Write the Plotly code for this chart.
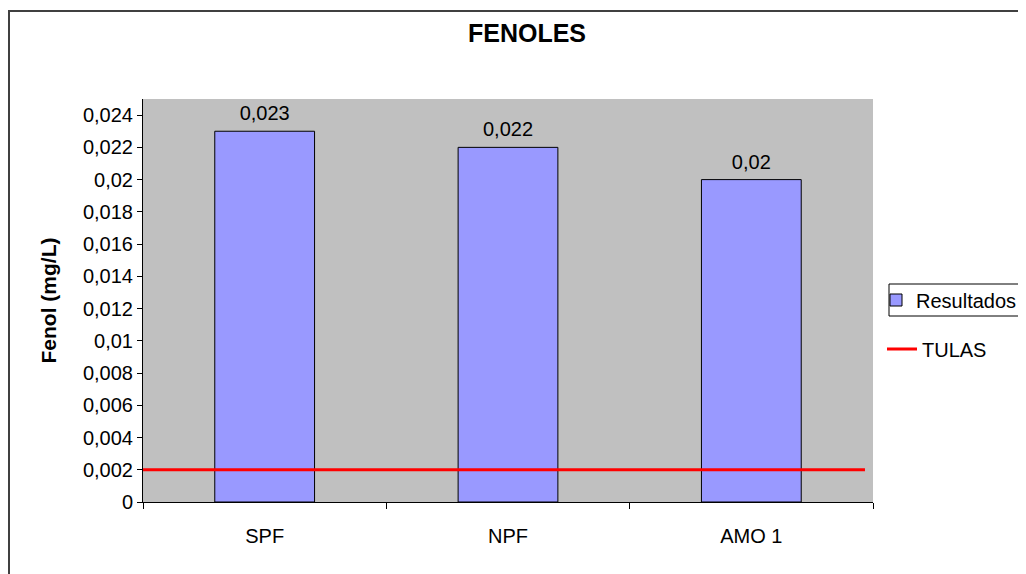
import plotly.graph_objects as go

categories = ["SPF", "NPF", "AMO 1"]
resultados = [0.023, 0.022, 0.02]
resultados_labels = ["0,023", "0,022", "0,02"]
tulas_limit = 0.002
y_ticks = [0, 0.002, 0.004, 0.006, 0.008, 0.01, 0.012, 0.014, 0.016, 0.018, 0.02, 0.022, 0.024]
y_ticktext = ["0", "0,002", "0,004", "0,006", "0,008", "0,01", "0,012", "0,014", "0,016", "0,018", "0,02", "0,022", "0,024"]

OFF = 8  # page body margin
W, H = 1026 - OFF, 574 - OFF
L, T = 143 - OFF, 99 - OFF
R = W - (873 - OFF)
B = H - (502 - OFF)
pw, ph = W - L - R, H - T - B

def px_x(x):
    return (x - OFF - L) / pw

def px_y(y):
    return 1 - (y - OFF - T) / ph

FONT = "Liberation Sans, Arial, sans-serif"

fig = go.Figure()
fig.add_trace(go.Bar(
    x=categories, y=resultados, name="Resultados",
    marker=dict(color="#9999FF", line=dict(color="black", width=1)),
    width=0.41, legend="legend", hoverinfo="skip",
))
fig.add_trace(go.Scatter(
    x=categories, y=resultados, mode="markers+text",
    text=resultados_labels, textposition="top center",
    marker=dict(size=8, opacity=0), cliponaxis=False,
    textfont=dict(size=20, color="black", family=FONT),
    showlegend=False, hoverinfo="skip",
))

fig.add_shape(type="line", xref="x domain", yref="y",
              x0=0, x1=0.989, y0=tulas_limit, y1=tulas_limit,
              line=dict(color="#FF0000", width=3),
              showlegend=True, name="TULAS", legend="legend2")

# outer chart border
fig.add_shape(type="rect", xref="paper", yref="paper",
              x0=px_x(9), x1=px_x(1040), y0=px_y(590), y1=px_y(11),
              line=dict(color="#404040", width=2), fillcolor="rgba(0,0,0,0)", layer="below")
# legend border around "Resultados"
fig.add_shape(type="rect", xref="paper", yref="paper",
              x0=px_x(889), x1=px_x(1026), y0=px_y(316), y1=px_y(284),
              line=dict(color="black", width=1), fillcolor="white", layer="below")

fig.update_layout(
    width=W, height=H,
    margin=dict(l=L, r=R, t=T, b=B, autoexpand=False),
    paper_bgcolor="white", plot_bgcolor="#C0C0C0",
    font=dict(family=FONT, size=20, color="black"),
    separators=",.",
    title=dict(text="<b>FENOLES</b>", x=(527 - OFF) / W, xanchor="center", xref="container",
               y=1 - (33 - OFF) / H, yanchor="middle", yref="container",
               font=dict(size=25, family=FONT, color="black")),
    showlegend=True,
    legend=dict(x=px_x(876), y=px_y(300), xanchor="left", yanchor="middle",
                borderwidth=0, bgcolor="rgba(0,0,0,0)",
                font=dict(size=20, family=FONT), itemwidth=30),
    legend2=dict(x=px_x(882), y=px_y(349), xanchor="left", yanchor="middle",
                 bgcolor="rgba(0,0,0,0)", borderwidth=0,
                 font=dict(size=20, family=FONT), itemwidth=30),
)

fig.update_xaxes(
    type="category", showline=True, linecolor="black", linewidth=1,
    ticks="outside", tickson="boundaries", ticklen=6, tickcolor="black",
    showgrid=False, tickfont=dict(size=20), zeroline=False,
    ticklabelstandoff=16,
)
fig.update_yaxes(
    range=[0, 0.025], tickvals=y_ticks, ticktext=y_ticktext,
    showline=True, linecolor="black", linewidth=1,
    ticks="outside", ticklen=5, tickcolor="black",
    showgrid=False, zeroline=False, tickfont=dict(size=20),
    title=dict(text="<b>Fenol (mg/L)</b>", font=dict(size=21), standoff=20),
)

fig.write_html("out.html")
